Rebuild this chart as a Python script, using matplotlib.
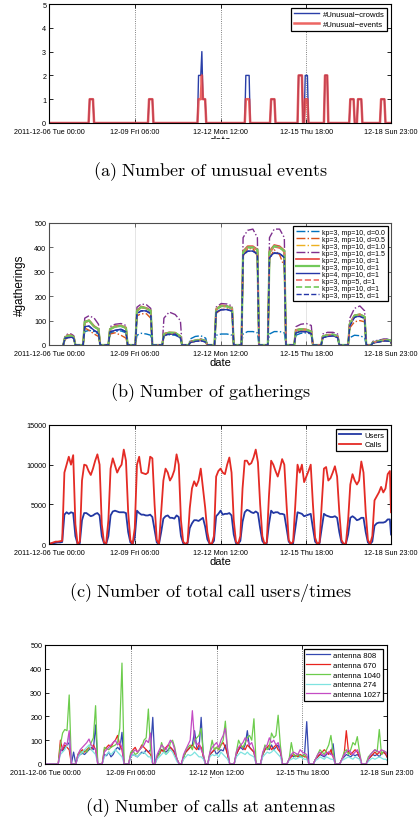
import numpy as np
import matplotlib
matplotlib.use('Agg')
import matplotlib.pyplot as plt
from matplotlib.patches import Rectangle

plt.rcParams['font.family'] = ['Liberation Sans', 'DejaVu Sans']
plt.rcParams['mathtext.fontset'] = 'cm'

# ---------------- shared x axis ----------------
tick_hours = [0, 78, 156, 234, 311]
tick_labels = ['2011-12-06 Tue 00:00', '12-09 Fri 06:00', '12-12 Mon 12:00',
               '12-15 Thu 18:00', '12-18 Sun 23:00']

# ---------------- (a) unusual events ----------------
unusual_hours = [37, 38, 39, 40, 91, 92, 93, 94, 136, 137, 138, 139, 140, 141, 142,
                 179, 180, 181, 182, 202, 203, 204, 205, 227, 228, 229, 230,
                 233, 234, 235, 251, 252, 253, 274, 275, 276, 277,
                 281, 282, 283, 284, 302, 303, 304, 305]
unusual_crowds = [1, 1, 1, 1, 1, 1, 1, 1, 2, 2, 2, 3, 1, 1, 1,
                  2, 2, 2, 2, 1, 1, 1, 1, 2, 2, 2, 2,
                  2, 2, 2, 2, 2, 2, 1, 1, 1, 1,
                  1, 1, 1, 1, 1, 1, 1, 1]
unusual_events = [1, 1, 1, 1, 1, 1, 1, 1, 1, 1, 1, 2, 1, 1, 1,
                  1, 1, 1, 1, 1, 1, 1, 1, 2, 2, 2, 2,
                  1, 1, 1, 2, 2, 2, 1, 1, 1, 1,
                  1, 1, 1, 1, 1, 1, 1, 1]

# ---------------- (b) gatherings ----------------
gather_hours = [13, 14.5, 16.9, 20.1, 22.5, 24,
                31, 32.5, 36.4, 41.1, 45, 46.5,
                54, 55.5, 60.1, 65.4, 70, 71.5,
                78.5, 80, 83.9, 88.6, 92.5, 94,
                103, 104.5, 109.3, 114.7, 119.5, 121,
                127, 128.5, 133, 138, 142.5, 144,
                150.5, 152, 156.6, 161.9, 166.5, 168,
                175, 176.5, 180.6, 185.4, 189.5, 191,
                199, 200.5, 204.8, 209.7, 214, 215.5,
                223, 224.5, 229, 234, 238.5, 240,
                247.5, 249, 253.3, 258.2, 262.5, 264,
                272, 273.5, 277.8, 282.7, 287, 288.5,
                293, 294.5, 299.6, 305.4, 310.5, 312]
g_d00 = [[25, 40, 40, 30], [55, 60, 55, 45], [50, 55, 58, 50], [40, 48, 45, 40], [38, 42, 40, 30],
         [25, 35, 38, 28], [40, 45, 45, 40], [45, 55, 55, 50], [45, 55, 55, 50], [40, 48, 50, 45],
         [35, 42, 45, 38], [30, 40, 38, 30], [12, 18, 25, 20]]
g_d05 = [[22, 30, 32, 28], [70, 60, 45, 35], [45, 50, 40, 28], [120, 128, 128, 110], [40, 45, 45, 30],
         [10, 15, 18, 12], [130, 145, 148, 140], [365, 395, 395, 365], [355, 390, 370, 320], [50, 58, 55, 45],
         [30, 38, 40, 32], [70, 95, 100, 95], [8, 12, 18, 15]]
g_d10 = [[30, 38, 38, 32], [95, 100, 75, 62], [62, 75, 78, 68], [140, 155, 150, 138], [45, 50, 50, 35],
         [12, 18, 22, 15], [145, 160, 158, 150], [380, 400, 400, 388], [380, 405, 400, 382], [58, 65, 62, 55],
         [35, 40, 42, 35], [85, 120, 125, 115], [10, 15, 20, 18]]
g_d15 = [[35, 45, 45, 38], [110, 120, 110, 85], [75, 85, 88, 80], [155, 168, 165, 150], [110, 135, 125, 100],
         [15, 20, 25, 18], [155, 170, 168, 160], [440, 470, 475, 440], [440, 475, 475, 440], [75, 85, 88, 80],
         [45, 52, 52, 45], [110, 150, 160, 140], [15, 20, 25, 22]]
g_kp2 = [[30, 40, 40, 33], [95, 102, 78, 66], [66, 78, 80, 72], [142, 158, 152, 142], [46, 52, 50, 36],
         [13, 19, 22, 16], [148, 163, 160, 152], [385, 405, 405, 392], [385, 410, 405, 388], [62, 66, 64, 56],
         [36, 42, 43, 36], [88, 122, 126, 116], [10, 16, 20, 18]]
g_kp3 = [[30, 38, 38, 32], [95, 100, 75, 65], [65, 75, 78, 70], [140, 155, 150, 140], [45, 50, 50, 35],
         [12, 18, 22, 15], [145, 160, 158, 150], [380, 400, 400, 390], [380, 405, 400, 385], [60, 65, 62, 55],
         [35, 40, 42, 35], [85, 120, 125, 115], [10, 15, 20, 18]]
g_kp4 = [[28, 30, 32, 28], [75, 78, 60, 50], [55, 60, 65, 55], [130, 140, 140, 130], [40, 45, 45, 30],
         [10, 15, 18, 12], [135, 145, 145, 140], [370, 385, 385, 375], [360, 378, 375, 360], [50, 55, 55, 48],
         [30, 35, 38, 30], [80, 115, 118, 110], [8, 12, 18, 15]]
g_mp5 = [[30, 39, 39, 32], [92, 98, 76, 64], [64, 76, 79, 70], [138, 154, 150, 138], [45, 50, 49, 34],
         [12, 18, 21, 15], [144, 160, 157, 149], [378, 398, 400, 388], [378, 402, 398, 382], [60, 64, 62, 54],
         [35, 40, 42, 34], [84, 118, 124, 114], [10, 15, 20, 17]]
g_mp10 = [[30, 38, 38, 32], [94, 100, 75, 65], [65, 75, 78, 70], [140, 155, 150, 140], [45, 50, 50, 35],
          [12, 18, 22, 15], [145, 160, 158, 150], [380, 400, 400, 390], [380, 405, 400, 385], [60, 65, 62, 55],
          [35, 40, 42, 35], [85, 120, 125, 115], [10, 15, 20, 18]]
g_mp15 = [[27, 30, 31, 27], [74, 77, 58, 50], [54, 60, 64, 54], [128, 140, 138, 128], [40, 44, 44, 30],
          [10, 15, 18, 12], [134, 144, 145, 138], [368, 384, 384, 372], [358, 376, 374, 358], [50, 55, 54, 47],
          [30, 35, 37, 30], [78, 113, 117, 108], [8, 12, 17, 15]]
gather_labels = ['kp=3, mp=10, d=0.0', 'kp=3, mp=10, d=0.5', 'kp=3, mp=10, d=1.0', 'kp=3, mp=10, d=1.5',
                 'kp=2, mp=10, d=1', 'kp=3, mp=10, d=1', 'kp=4, mp=10, d=1',
                 'kp=3, mp=5, d=1', 'kp=3, mp=10, d=1', 'kp=3, mp=15, d=1']

# ---------------- (c) users / calls (2-hour samples) ----------------
calls = [0, 100, 200, 300, 300, 350, 400, 9000, 10000, 11000, 10000, 11200,
         2500, 0, 300, 8000, 10000, 9900, 9200, 8700, 9500, 10500, 11300, 10000,
         2500, 200, 100, 3000, 9500, 10800, 9900, 9000, 9600, 10000, 11900, 10500,
         4000, 500, 0, 2000, 10000, 11000, 9000, 8900, 8800, 9000, 11000, 10800,
         5000, 500, 0, 4000, 8000, 9500, 9000, 8000, 8500, 9300, 11300, 10000,
         3000, 300, 0, 200, 4500, 7000, 7900, 7300, 8000, 9500, 7000, 4600,
         1500, 100, 0, 1000, 8500, 9200, 9500, 9000, 8800, 10000, 10900, 9000,
         3000, 300, 0, 1000, 7000, 10500, 10500, 10000, 10200, 10900, 11900, 10300,
         5000, 1000, 0, 200, 6000, 10500, 10000, 9200, 8500, 9500, 10700, 10000,
         5000, 500, 0, 300, 5000, 10000, 9000, 10000, 7800, 8500, 9200, 10000,
         5000, 800, 0, 200, 5000, 9500, 9700, 8000, 8300, 9000, 9800, 8500,
         4000, 500, 0, 100, 3000, 7500, 8800, 8000, 7500, 8000, 10400, 9000,
         4000, 500, 0, 1000, 5500, 6000, 6500, 7200, 6500, 7000, 8800, 9200,
         4000]
users = [0, 50, 100, 150, 200, 200, 250, 3700, 4000, 3800, 4000, 3900,
         1000, 0, 100, 3000, 3900, 3900, 3700, 3500, 3600, 3800, 3900, 3600,
         1000, 100, 0, 1000, 3600, 4100, 4200, 4100, 4000, 4000, 4000, 3900,
         1500, 200, 0, 800, 4200, 3900, 3700, 3700, 3600, 3600, 3700, 3400,
         1800, 200, 0, 1500, 3200, 3500, 3600, 3300, 3300, 3200, 3600, 3400,
         1000, 100, 0, 100, 2000, 2600, 3000, 3000, 2900, 3100, 3300, 2200,
         600, 50, 0, 400, 3500, 3800, 4200, 3700, 3800, 3800, 3900, 3600,
         1200, 100, 0, 400, 2800, 4000, 4300, 4200, 4000, 3900, 4100, 3900,
         2000, 400, 0, 100, 2500, 4200, 3900, 4000, 4000, 3800, 3800, 3700,
         2000, 300, 0, 100, 2000, 4000, 3900, 3800, 3500, 3600, 3700, 3800,
         2000, 300, 0, 100, 2000, 3800, 3600, 3500, 3400, 3400, 3500, 3300,
         1500, 200, 0, 50, 1200, 3300, 3500, 3300, 3000, 3100, 3300, 3300,
         1500, 200, 0, 300, 2300, 2600, 2700, 2700, 2700, 2800, 3100, 3100,
         1200]

# ---------------- (d) calls at antennas (2-hour samples) ----------------
ant_808 = [0, 0, 0, 0, 0, 0, 0, 60, 55, 70, 80, 90,
           0, 50, 0, 30, 40, 45, 40, 50, 60, 70, 60, 164,
           0, 0, 0, 40, 35, 50, 30, 40, 60, 70, 60, 133,
           0, 0, 0, 30, 40, 35, 30, 40, 50, 45, 60, 50,
           60, 196, 0, 30, 50, 60, 55, 50, 60, 70, 60, 50,
           20, 0, 0, 30, 50, 60, 70, 80, 140, 70, 60, 196,
           30, 0, 0, 40, 50, 60, 40, 50, 60, 55, 80, 40,
           0, 0, 0, 40, 60, 70, 60, 80, 140, 70, 60, 50,
           0, 0, 0, 40, 60, 70, 60, 80, 60, 70, 80, 50,
           0, 0, 0, 20, 40, 30, 35, 40, 30, 35, 40, 178,
           0, 0, 0, 20, 30, 40, 35, 30, 40, 50, 40, 85,
           0, 0, 0, 20, 30, 40, 35, 30, 40, 35, 40, 30,
           0, 0, 0, 20, 30, 40, 35, 40, 30, 45, 50, 40,
           30]
ant_670 = [0, 0, 0, 0, 0, 0, 0, 100, 60, 80, 70, 60,
           0, 0, 0, 40, 50, 60, 50, 60, 70, 60, 80, 60,
           0, 0, 0, 60, 70, 80, 70, 90, 100, 120, 80, 60,
           0, 0, 0, 40, 60, 70, 50, 60, 80, 70, 60, 50,
           40, 0, 0, 30, 40, 60, 50, 70, 80, 70, 60, 40,
           20, 0, 0, 30, 50, 60, 70, 80, 70, 60, 80, 70,
           30, 0, 0, 40, 50, 60, 70, 60, 80, 90, 70, 40,
           0, 0, 0, 40, 60, 80, 70, 60, 80, 70, 60, 50,
           0, 0, 0, 40, 60, 70, 80, 60, 70, 80, 60, 50,
           0, 0, 0, 20, 30, 40, 35, 30, 40, 35, 30, 30,
           0, 0, 0, 20, 30, 40, 50, 60, 50, 40, 60, 30,
           0, 0, 0, 20, 40, 140, 50, 40, 50, 60, 50, 30,
           0, 0, 0, 20, 30, 40, 50, 40, 50, 40, 50, 40,
           30]
ant_1040 = [0, 0, 0, 0, 0, 0, 0, 80, 130, 145, 140, 290,
            0, 0, 0, 40, 55, 45, 60, 50, 70, 90, 110, 245,
            0, 0, 0, 70, 65, 60, 70, 75, 80, 90, 150, 424,
            0, 0, 0, 50, 55, 40, 45, 60, 70, 100, 110, 231,
            60, 0, 0, 30, 40, 90, 60, 40, 50, 90, 100, 70,
            20, 0, 0, 20, 60, 70, 80, 60, 100, 110, 120, 150,
            40, 0, 0, 50, 100, 60, 70, 60, 80, 100, 180, 60,
            0, 0, 0, 50, 100, 80, 70, 90, 110, 120, 100, 190,
            0, 0, 0, 40, 80, 60, 70, 130, 110, 120, 205, 80,
            0, 0, 0, 20, 90, 40, 30, 40, 35, 30, 40, 30,
            0, 0, 0, 20, 40, 60, 50, 40, 60, 80, 120, 50,
            0, 0, 0, 20, 50, 60, 40, 60, 90, 80, 115, 50,
            0, 0, 0, 30, 40, 50, 60, 50, 145, 40, 55, 50,
            40]
ant_274 = [0, 0, 0, 0, 0, 0, 0, 40, 50, 60, 80, 120,
           0, 0, 0, 30, 40, 50, 60, 70, 80, 60, 50, 40,
           0, 0, 0, 30, 40, 50, 40, 50, 60, 50, 40, 30,
           0, 0, 0, 30, 40, 35, 30, 40, 45, 50, 40, 30,
           30, 0, 0, 20, 30, 40, 50, 40, 50, 60, 50, 30,
           10, 0, 0, 20, 30, 40, 35, 40, 50, 40, 30, 30,
           20, 0, 0, 30, 40, 35, 40, 30, 50, 40, 30, 20,
           0, 0, 0, 30, 40, 50, 45, 40, 50, 40, 35, 30,
           0, 0, 0, 30, 40, 50, 45, 50, 60, 50, 40, 30,
           0, 0, 0, 15, 20, 25, 20, 25, 30, 25, 20, 20,
           0, 0, 0, 15, 20, 30, 25, 20, 30, 25, 20, 20,
           0, 0, 0, 15, 20, 25, 30, 25, 20, 30, 25, 20,
           0, 0, 0, 10, 20, 25, 20, 25, 30, 25, 20, 20,
           15]
ant_1027 = [0, 0, 0, 0, 0, 0, 0, 50, 70, 90, 80, 140,
            0, 0, 0, 40, 60, 70, 80, 90, 105, 80, 70, 60,
            0, 0, 0, 50, 60, 70, 80, 90, 100, 80, 90, 70,
            0, 0, 0, 40, 50, 60, 50, 60, 70, 80, 100, 90,
            130, 0, 0, 40, 60, 80, 70, 60, 80, 100, 90, 60,
            20, 0, 0, 40, 60, 80, 100, 224, 100, 80, 90, 60,
            40, 0, 0, 50, 70, 80, 90, 70, 100, 120, 150, 60,
            0, 0, 0, 50, 70, 80, 90, 110, 100, 80, 90, 60,
            0, 0, 0, 50, 70, 80, 110, 90, 100, 80, 90, 60,
            0, 0, 0, 20, 40, 50, 45, 40, 60, 50, 45, 40,
            0, 0, 0, 20, 40, 50, 40, 35, 45, 50, 40, 35,
            0, 0, 0, 20, 40, 50, 60, 50, 40, 50, 60, 40,
            0, 0, 0, 20, 40, 50, 60, 55, 50, 60, 55, 50,
            40]
antenna_labels = ['antenna 808', 'antenna 670', 'antenna 1040', 'antenna 274', 'antenna 1027']

captions = ['(a) Number of unusual events', '(b) Number of gatherings',
            '(c) Number of total call users/times', '(d) Number of calls at antennas']

# =====================================================================
W, H = 420, 828
fig = plt.figure(figsize=(W / 100, H / 100), dpi=100)


def fbox(l, t, r, b):
    return [l / W, 1 - b / H, (r - l) / W, (b - t) / H]


TICKFS = 5.2


def style(ax, ygrid_color='0.35', ls=':', spine='k'):
    ax.set_xlim(0, 311)
    ax.set_xticks(tick_hours)
    ax.set_xticklabels(tick_labels)
    ax.tick_params(direction='in', length=3, width=0.6, labelsize=TICKFS,
                   top=True, right=True, pad=2, colors=spine, labelcolor='k')
    ax.tick_params(axis='x', pad=3.5)
    for s in ax.spines.values():
        s.set_linewidth(0.8)
        s.set_color(spine)
    for h in tick_hours[1:4]:
        ax.axvline(h, color=ygrid_color, ls=ls, lw=0.6, zorder=0.5)


def legend(ax, fs, spacing, hl, **kw):
    lg = ax.legend(loc='upper right', fontsize=fs, labelspacing=spacing, handlelength=hl,
                   handletextpad=0.4, borderpad=0.35, fancybox=False, framealpha=1,
                   edgecolor='k', borderaxespad=0.5, **kw)
    lg.get_frame().set_linewidth(0.9)
    return lg


# ---------------- (a) ----------------
ax = fig.add_axes(fbox(49, 5, 391, 124))
hours_a = np.arange(0, 312)
crowds_a = np.zeros(312)
events_a = np.zeros(312)
crowds_a[unusual_hours] = unusual_crowds
events_a[unusual_hours] = unusual_events
ax.plot(hours_a, crowds_a, color='#2a3fa8', lw=1.0, label='#Unusual\u2212crowds')
ax.plot(hours_a, events_a, color='#e8403c', lw=1.8, alpha=0.8, label='#Unusual\u2212events')
ax.set_ylim(0, 5)
ax.set_yticks([0, 1, 2, 3, 4, 5])
style(ax)
ax.set_xlabel('date', fontsize=8, labelpad=0)
legend(ax, 5.6, 0.3, 3.3)

# ---------------- (b) ----------------
ax = fig.add_axes(fbox(49, 224, 391, 346))
gather_series = [g_d00, g_d05, g_d10, g_d15, g_kp2, g_kp3, g_kp4, g_mp5, g_mp10, g_mp15]
gather_colors = ['#0072BD', '#D95319', '#EDB120', '#7E2F8E', '#e8413c', '#72c95a', '#2436a8',
                 '#ef6b63', '#72c95a', '#2436a8']
gather_styles = ['-.', '-.', '-.', '-.', '-', '-', '-', '--', '--', '--']
gather_widths = [1.0, 1.0, 1.0, 1.0, 1.2, 1.6, 1.0, 1.2, 1.2, 1.0]
for vals, c, lsty, lw, lab in zip(gather_series, gather_colors, gather_styles, gather_widths, gather_labels):
    y = []
    for v in vals:
        y += [0] + list(v) + [0]
    ax.plot(gather_hours, y, color=c, ls=lsty, lw=lw, label=lab)
ax.set_ylim(0, 500)
ax.set_yticks([0, 100, 200, 300, 400, 500])
style(ax, ygrid_color='0.88', ls='-', spine='0.3')
ax.set_xlabel('date', fontsize=8, labelpad=0)
ax.set_ylabel('#gatherings', fontsize=8.5, labelpad=6)
legend(ax, 5.0, 0.0, 3.4)

# ---------------- (c) ----------------
ax = fig.add_axes(fbox(49, 426, 391, 545))
hours_c = np.r_[np.arange(0, 311, 2), 311]
ax.plot(hours_c, users, color='#2338a3', lw=1.3, label='Users')
ax.plot(hours_c, calls, color='#e42b25', lw=1.3, label='Calls')
ax.set_ylim(0, 15000)
ax.set_yticks([0, 5000, 10000, 15000])
style(ax)
ax.set_xlabel('date', fontsize=8, labelpad=0)
legend(ax, 5.5, 0.3, 3.0)

# ---------------- (d) ----------------
ax = fig.add_axes(fbox(45, 646, 387, 765))
ant_series = [ant_808, ant_670, ant_1040, ant_274, ant_1027]
ant_colors = ['#3448b0', '#e8231d', '#6ccc4c', '#7fe3e0', '#c44bc4']
for vals, c, lab in zip(ant_series, ant_colors, antenna_labels):
    ax.plot(hours_c, vals, color=c, lw=0.9, label=lab)
ax.set_ylim(0, 500)
ax.set_yticks([0, 100, 200, 300, 400, 500])
style(ax)
ax.set_xlabel('date', fontsize=8, labelpad=0)
legend(ax, 5.6, 0.3, 3.0)

# crop the partially hidden "date" labels as in the reference
for top, bot in [(140, 160), (779, 796)]:
    fig.add_artist(Rectangle((0, 1 - bot / H), 1, (bot - top) / H, transform=fig.transFigure,
                             facecolor='white', edgecolor='none', zorder=10))

# captions
for cap, yc in zip(captions, [172, 393, 593, 808]):
    txt = r'$\mathrm{' + cap.replace(' ', r'\ ') + '}$'
    fig.text(0.5, 1 - yc / H, txt, ha='center', va='center', fontsize=13, zorder=11)

fig.savefig('out.png', dpi=100)
